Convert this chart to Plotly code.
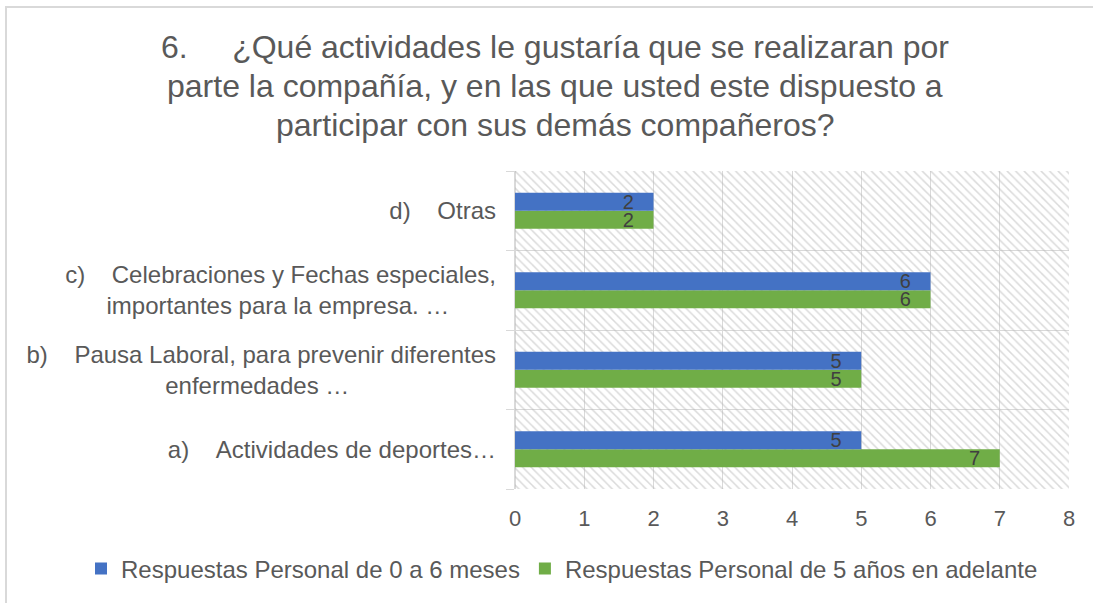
import plotly.graph_objects as go

NB = "\u00a0"
categories = [
    "a)" + NB * 4 + "Actividades de deportes…",
    "b)" + NB * 4 + "Pausa Laboral, para prevenir diferentes<br>enfermedades …" + NB * 22,
    "c)" + NB * 4 + "Celebraciones y Fechas especiales,<br>importantes para la empresa. …" + NB * 7,
    "d)" + NB * 4 + "Otras",
]
series_0_6_meses = [5, 5, 6, 2]
series_5_anios = [7, 5, 6, 2]
name_0_6 = "Respuestas Personal de 0 a 6 meses"
name_5 = "Respuestas Personal de 5 años en adelante"
x_ticks = [0, 1, 2, 3, 4, 5, 6, 7, 8]
x_max = 8
title_lines = [
    "6." + NB * 5 + "¿Qué actividades le gustaría que se realizaran por",
    "parte la compañía, y en las que usted este dispuesto a",
    "participar con sus demás compañeros?",
]

FONT = "Liberation Sans, Arial, sans-serif"
GRAY = "#595959"
GRID = "#d9d9d9"
BLUE = "#4472c4"
GREEN = "#70ad47"

fig = go.Figure()

# hatched plot-area background
fig.add_trace(go.Bar(
    x=[x_max], y=[0.5], width=[1], orientation="h", base=0,
    marker=dict(color="rgba(0,0,0,0)", line=dict(width=0),
                pattern=dict(shape="\\", fgcolor="#b5b5b5", bgcolor="rgba(0,0,0,0)",
                             size=6, solidity=0.25)),
    hoverinfo="skip", showlegend=False, xaxis="x", yaxis="y",
))

label_font = dict(family=FONT, size=20, color="#404040")
fig.add_trace(go.Bar(
    y=categories, x=series_5_anios, name=name_5, orientation="h",
    marker=dict(color=GREEN, line=dict(width=0)),
    text=[f"{v}" + NB * 3 for v in series_5_anios], textposition="inside",
    insidetextanchor="end", constraintext="none", textfont=label_font,
    xaxis="x", yaxis="y2", legendrank=2,
))
fig.add_trace(go.Bar(
    y=categories, x=series_0_6_meses, name=name_0_6, orientation="h",
    marker=dict(color=BLUE, line=dict(width=0)),
    text=[f"{v}" + NB * 3 for v in series_0_6_meses], textposition="inside",
    insidetextanchor="end", constraintext="none", textfont=label_font,
    xaxis="x", yaxis="y2", legendrank=1,
))

L, R, T, B = 515, 24, 171, 114
W, H = 1093, 603
pw, ph = W - L - R, H - T - B

annotations = []
for i, line in enumerate(title_lines):
    yc = 47 + 39 * i
    annotations.append(dict(
        text=line, xref="paper", yref="paper",
        x=(555 - L) / pw, y=(H - B - yc) / ph, xanchor="center", yanchor="middle",
        showarrow=False, font=dict(family=FONT, size=32, color=GRAY),
    ))

fig.update_layout(
    width=W, height=H,
    margin=dict(l=L, r=R, t=T, b=B, autoexpand=False),
    paper_bgcolor="white", plot_bgcolor="white",
    barmode="group", bargap=0.55, bargroupgap=0,
    font=dict(family=FONT, size=24, color=GRAY),
    xaxis=dict(range=[0, x_max], tickvals=x_ticks, showgrid=True, gridcolor=GRID,
               gridwidth=1, zeroline=True, zerolinecolor=GRID, showline=False,
               ticks="", automargin=False, ticklabelstandoff=14,
               tickfont=dict(family=FONT, size=22, color=GRAY)),
    yaxis=dict(range=[0, 1], visible=False, fixedrange=True, automargin=False),
    yaxis2=dict(overlaying="y", side="left", type="category",
                showgrid=True, gridcolor=GRID, tickson="boundaries",
                ticks="outside", ticklen=8, tickcolor=GRID, showline=False,
                ticklabelstandoff=18, automargin=False,
                tickfont=dict(family=FONT, size=24, color=GRAY)),
    legend=dict(orientation="h", x=(81 - L) / pw, y=(H - B - 569) / ph,
                xanchor="left", yanchor="middle",
                font=dict(family=FONT, size=24, color=GRAY), traceorder="normal"),
    annotations=annotations,
    shapes=[dict(type="rect", xref="paper", yref="paper",
                 x0=(6 - L) / pw, x1=(W + 20 - L) / pw,
                 y0=(H - B - (H + 20)) / ph, y1=(H - B - 7) / ph,
                 line=dict(color=GRID, width=2), fillcolor="rgba(0,0,0,0)", layer="below")],
    showlegend=True,
)

fig.write_html("out.html", config={"displayModeBar": False},
               post_script="document.body.style.margin='0';")
